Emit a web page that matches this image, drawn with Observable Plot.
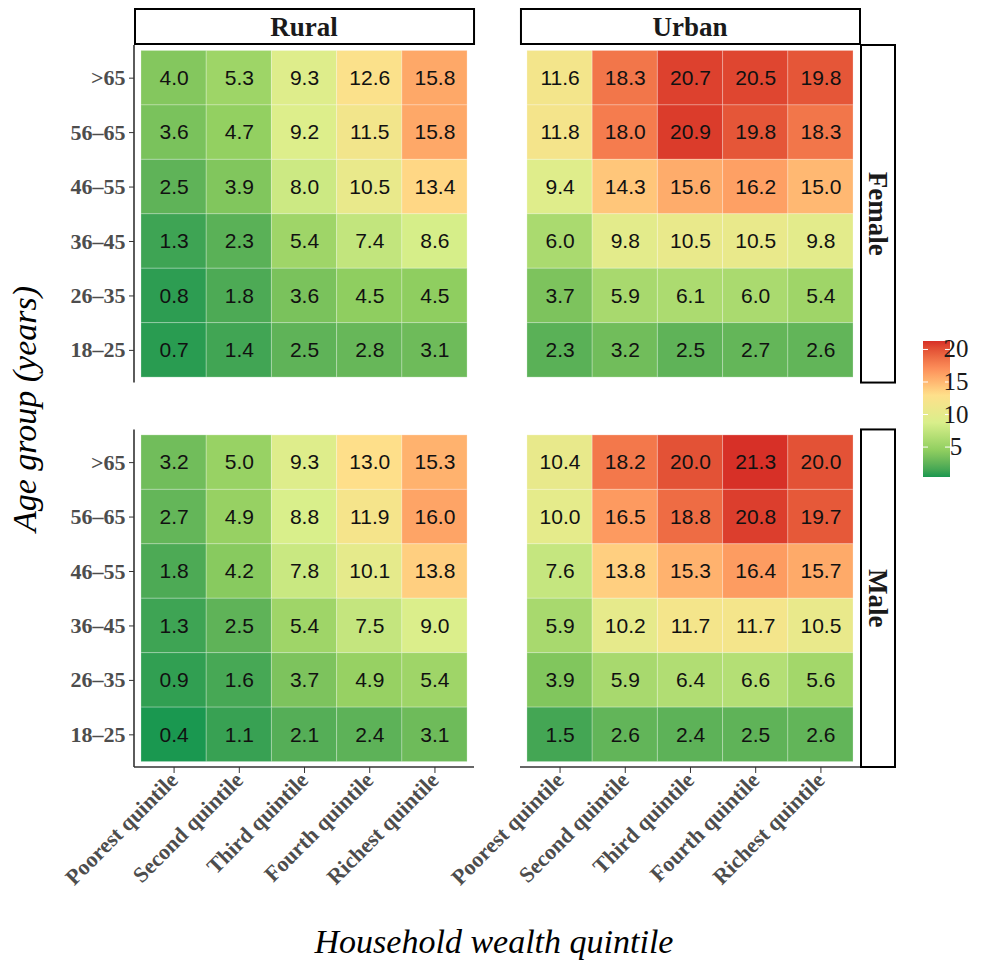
<!DOCTYPE html>
<html>
<head>
<meta charset="utf-8">
<script src="https://cdn.jsdelivr.net/npm/d3@7"></script>
<script src="https://cdn.jsdelivr.net/npm/@observablehq/plot@0.6"></script>
<style>
  body { margin: 0; background: #fff; }
  #chart svg { display: block; }
</style>
</head>
<body>
<div id="chart"></div>
<script>
// Facets, categories and labels
const areas = ["Rural", "Urban"];
const sexes = ["Female", "Male"];
const quintiles = ["Poorest quintile", "Second quintile", "Third quintile", "Fourth quintile", "Richest quintile"];
const ageGroups = [">65", "56–65", "46–55", "36–45", "26–35", "18–25"];
const legendTicks = [5, 10, 15, 20];

// Prevalence (%) by age group (rows, oldest first) and wealth quintile (columns)
const ruralFemale = [
  [4.0, 5.3, 9.3, 12.6, 15.8],
  [3.6, 4.7, 9.2, 11.5, 15.8],
  [2.5, 3.9, 8.0, 10.5, 13.4],
  [1.3, 2.3, 5.4, 7.4, 8.6],
  [0.8, 1.8, 3.6, 4.5, 4.5],
  [0.7, 1.4, 2.5, 2.8, 3.1]
];
const urbanFemale = [
  [11.6, 18.3, 20.7, 20.5, 19.8],
  [11.8, 18.0, 20.9, 19.8, 18.3],
  [9.4, 14.3, 15.6, 16.2, 15.0],
  [6.0, 9.8, 10.5, 10.5, 9.8],
  [3.7, 5.9, 6.1, 6.0, 5.4],
  [2.3, 3.2, 2.5, 2.7, 2.6]
];
const ruralMale = [
  [3.2, 5.0, 9.3, 13.0, 15.3],
  [2.7, 4.9, 8.8, 11.9, 16.0],
  [1.8, 4.2, 7.8, 10.1, 13.8],
  [1.3, 2.5, 5.4, 7.5, 9.0],
  [0.9, 1.6, 3.7, 4.9, 5.4],
  [0.4, 1.1, 2.1, 2.4, 3.1]
];
const urbanMale = [
  [10.4, 18.2, 20.0, 21.3, 20.0],
  [10.0, 16.5, 18.8, 20.8, 19.7],
  [7.6, 13.8, 15.3, 16.4, 15.7],
  [5.9, 10.2, 11.7, 11.7, 10.5],
  [3.9, 5.9, 6.4, 6.6, 5.6],
  [1.5, 2.6, 2.4, 2.5, 2.6]
];

// Long-format table for the cell and text marks
const panels = [
  ["Rural", "Female", ruralFemale],
  ["Urban", "Female", urbanFemale],
  ["Rural", "Male", ruralMale],
  ["Urban", "Male", urbanMale]
];
const rows = [];
for (const [area, sex, grid] of panels) {
  grid.forEach((r, i) => r.forEach((value, j) => {
    rows.push({area, sex, age: ageGroups[i], quintile: quintiles[j], value});
  }));
}

// Green–yellow–red gradient spread evenly over the data range
const [lo, hi] = d3.extent(rows, d => d.value);
const palette = ["#1a9850", "#91cf60", "#d9ef8b", "#fee08b", "#fc8d59", "#d73027"];
const colorOptions = {
  type: "linear",
  domain: palette.map((_, i) => lo + (hi - lo) * i / (palette.length - 1)),
  range: palette,
  interpolate: "lab"
};

const W = 989, H = 963;
const serif = "'Liberation Serif', 'Times New Roman', Times, serif";
const sans = "'Liberation Sans', Arial, Helvetica, sans-serif";

const plot = Plot.plot({
  width: W,
  height: H,
  marginLeft: 134,
  marginRight: 129,
  marginTop: 45,
  marginBottom: 196,
  facet: {marginTop: 0, marginRight: 0, marginBottom: 0, marginLeft: 0},
  style: {fontFamily: serif, fontSize: "22px", background: "#fff", overflow: "visible"},
  fx: {domain: areas, paddingInner: 0.119, paddingOuter: 0, round: false, axis: null},
  fy: {domain: sexes, paddingInner: 0.122, paddingOuter: 0, round: false, axis: null},
  x: {domain: quintiles, paddingInner: 0, paddingOuter: 0.107, round: false},
  y: {domain: ageGroups, paddingInner: 0, paddingOuter: 0.1, round: false},
  color: colorOptions,
  marks: [
    Plot.cell(rows, {
      fx: "area", fy: "sex", x: "quintile", y: "age",
      fill: "value", inset: 0,
      stroke: "#ffffff", strokeOpacity: 0.25, strokeWidth: 1
    }),
    Plot.text(rows, {
      fx: "area", fy: "sex", x: "quintile", y: "age",
      text: d => d.value.toFixed(1),
      fontFamily: sans, fontSize: 21, fill: "#111"
    }),
    Plot.axisY({
      facetAnchor: "left", tickSize: 5, tickPadding: 4,
      stroke: "#333", fill: "#4d4d4d",
      fontWeight: "bold", fontSize: 22, label: null
    }),
    Plot.axisX({
      facetAnchor: "bottom", tickSize: 6, tickPadding: 3, tickRotate: -45,
      stroke: "#333", fill: "#4d4d4d",
      fontWeight: "bold", fontSize: 22, label: null
    })
  ]
});

document.getElementById("chart").appendChild(plot);

// Facet band scales rebuilt from the plot's own fx / fy scales
function bandFrom(desc) {
  return d3.scaleBand()
    .domain(desc.domain)
    .range(desc.range)
    .paddingInner(desc.paddingInner ?? 0)
    .paddingOuter(desc.paddingOuter ?? 0)
    .align(desc.align ?? 0.5);
}
const fx = bandFrom(plot.scale("fx"));
const fy = bandFrom(plot.scale("fy"));
const svg = d3.select(plot);
const deco = svg.append("g").attr("class", "facet-decoration");

// Axis lines: left side of the first column, bottom of the last row
const firstArea = areas[0], lastSex = sexes[sexes.length - 1];
for (const s of sexes) {
  deco.append("line")
    .attr("x1", fx(firstArea)).attr("x2", fx(firstArea))
    .attr("y1", fy(s)).attr("y2", fy(s) + fy.bandwidth())
    .attr("stroke", "#333").attr("stroke-width", 1.6);
}
for (const a of areas) {
  deco.append("line")
    .attr("x1", fx(a)).attr("x2", fx(a) + fx.bandwidth())
    .attr("y1", fy(lastSex) + fy.bandwidth()).attr("y2", fy(lastSex) + fy.bandwidth())
    .attr("stroke", "#333").attr("stroke-width", 1.6);
}

// Column strips above the panels
const stripSize = 35;
for (const a of areas) {
  const x0 = fx(a), y0 = fy(sexes[0]) - stripSize - 1;
  deco.append("rect")
    .attr("x", x0 + 1).attr("y", y0).attr("width", fx.bandwidth() - 1).attr("height", stripSize)
    .attr("fill", "#fff").attr("stroke", "#000").attr("stroke-width", 2);
  deco.append("text")
    .attr("x", x0 + fx.bandwidth() / 2).attr("y", y0 + 27)
    .attr("text-anchor", "middle")
    .attr("font-family", serif).attr("font-weight", "bold").attr("font-size", 27)
    .attr("fill", "#1a1a1a")
    .text(a);
}

// Row strips to the right of the panels
const lastArea = areas[areas.length - 1];
for (const s of sexes) {
  const x0 = fx(lastArea) + fx.bandwidth() + 1, y0 = fy(s);
  deco.append("rect")
    .attr("x", x0).attr("y", y0).attr("width", 34).attr("height", fy.bandwidth())
    .attr("fill", "#fff").attr("stroke", "#000").attr("stroke-width", 2);
  deco.append("text")
    .attr("transform", `translate(${x0 + 8},${y0 + fy.bandwidth() / 2}) rotate(90)`)
    .attr("text-anchor", "middle")
    .attr("font-family", serif).attr("font-weight", "bold").attr("font-size", 27)
    .attr("fill", "#1a1a1a")
    .text(s);
}

// Axis titles
const panelLeft = fx(firstArea), panelRight = fx(lastArea) + fx.bandwidth();
const panelTop = fy(sexes[0]), panelBottom = fy(lastSex) + fy.bandwidth();
deco.append("text")
  .attr("transform", `translate(36,${(panelTop + panelBottom) / 2 + 3}) rotate(-90)`)
  .attr("text-anchor", "middle")
  .attr("font-family", serif).attr("font-style", "italic").attr("font-size", 34)
  .attr("fill", "#000")
  .text("Age group (years)");
deco.append("text")
  .attr("x", (panelLeft + panelRight) / 2 - 3).attr("y", 953)
  .attr("text-anchor", "middle")
  .attr("font-family", serif).attr("font-style", "italic").attr("font-size", 34)
  .attr("fill", "#000")
  .text("Household wealth quintile");

// Colour bar legend built from the same colour scale
const color = Plot.scale({color: colorOptions});
const barX = 923, barW = 27, barTop = 341, barBottom = 477;
const ly = d3.scaleLinear([lo, hi], [barBottom, barTop]);
const grad = svg.append("defs").append("linearGradient")
  .attr("id", "bar-gradient").attr("x1", 0).attr("y1", 1).attr("x2", 0).attr("y2", 0);
d3.range(0, 1.0001, 0.05).forEach(t => {
  grad.append("stop").attr("offset", t).attr("stop-color", color.apply(lo + t * (hi - lo)));
});
const legend = svg.append("g").attr("class", "colour-legend");
legend.append("rect")
  .attr("x", barX).attr("y", barTop).attr("width", barW).attr("height", barBottom - barTop)
  .attr("fill", "url(#bar-gradient)");
for (const v of legendTicks) {
  legend.append("line")
    .attr("x1", barX).attr("x2", barX + 5).attr("y1", ly(v)).attr("y2", ly(v))
    .attr("stroke", "#fff").attr("stroke-width", 1);
  legend.append("line")
    .attr("x1", barX + barW - 5).attr("x2", barX + barW).attr("y1", ly(v)).attr("y2", ly(v))
    .attr("stroke", "#fff").attr("stroke-width", 1);
  legend.append("text")
    .attr("x", barX + barW + 6).attr("y", ly(v) + 8)
    .attr("font-family", serif).attr("font-size", 25).attr("fill", "#1a1a1a")
    .text(v);
}
</script>
</body>
</html>
